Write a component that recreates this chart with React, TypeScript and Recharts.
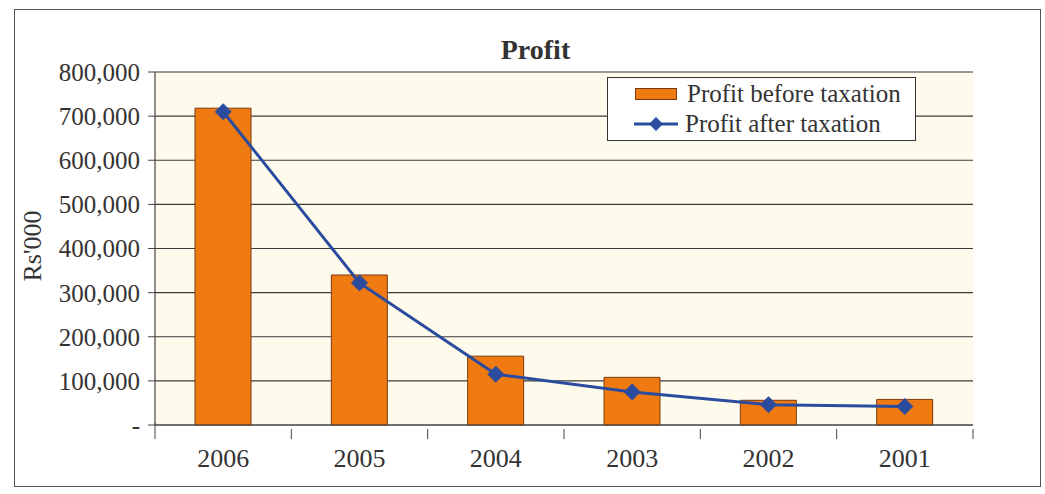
import {
  ComposedChart,
  Bar,
  Line,
  XAxis,
  YAxis,
  CartesianGrid,
  Legend,
} from "recharts";

const years = ["2006", "2005", "2004", "2003", "2002", "2001"];
const beforeTax = [718000, 340000, 156000, 108000, 56000, 58000];
const afterTax = [710000, 322000, 115000, 75000, 46000, 42000];
const yTicks = [0, 100000, 200000, 300000, 400000, 500000, 600000, 700000, 800000];

const data = years.map((year, i) => ({
  year,
  before: beforeTax[i],
  after: afterTax[i],
}));

const FONT = "'Liberation Serif', 'DejaVu Serif', serif";
const TEXT = "#333";
const ORANGE = "#EF7A12";
const BLUE = "#2B4C9E";

const Diamond = (props: any) => {
  const { cx, cy, index } = props;
  if (cx == null || cy == null) return null;
  const r = 8;
  return (
    <path
      key={`d-${index}`}
      d={`M${cx},${cy - r} L${cx + r},${cy} L${cx},${cy + r} L${cx - r},${cy} Z`}
      fill={BLUE}
      stroke={BLUE}
    />
  );
};

const YearTick = (props: any) => {
  const { x, y, payload, index } = props;
  const half = payload.offset || 0;
  return (
    <g>
      {index === 0 && (
        <line x1={x - half} y1={y - 10} x2={x - half} y2={y + 6} stroke="#444" />
      )}
      <line x1={x + half} y1={y - 4} x2={x + half} y2={y + 6} stroke="#444" />
      <text
        x={x}
        y={y + 34}
        textAnchor="middle"
        fill={TEXT}
        fontSize={26}
        fontFamily={FONT}
      >
        {payload.value}
      </text>
    </g>
  );
};

const LegendBox = () => (
  <div
    style={{
      border: "1px solid #333",
      background: "#fff",
      width: 309,
      height: 64,
      fontFamily: FONT,
      fontSize: 25,
      color: TEXT,
      boxSizing: "border-box",
      whiteSpace: "nowrap",
    }}
  >
    <div style={{ display: "flex", alignItems: "center", height: 30, marginTop: 1 }}>
      <span
        style={{
          display: "inline-block",
          width: 40,
          height: 10,
          background: ORANGE,
          border: "1px solid #7a3a10",
          marginLeft: 27,
          marginRight: 10,
        }}
      />
      Profit before taxation
    </div>
    <div style={{ display: "flex", alignItems: "center", height: 30 }}>
      <svg width={46} height={20} style={{ marginLeft: 25, marginRight: 6 }}>
        <line x1={1} y1={10} x2={45} y2={10} stroke={BLUE} strokeWidth={3} />
        <path d="M23,3 L30,10 L23,17 L16,10 Z" fill={BLUE} />
      </svg>
      Profit after taxation
    </div>
  </div>
);

export default function App() {
  return (
    <div
      style={{
        position: "absolute",
        left: 0,
        top: 0,
        width: 1045,
        height: 494,
        background: "#fff",
        fontFamily: FONT,
      }}
    >
      <div
        style={{
          position: "absolute",
          left: 14,
          top: 9,
          width: 1025,
          height: 476,
          border: "1px solid #555",
        }}
      />
      <div
        style={{
          position: "absolute",
          left: 13,
          width: 1045,
          top: 34,
          textAlign: "center",
          fontSize: 28,
          fontWeight: "bold",
          color: TEXT,
        }}
      >
        Profit
      </div>
      <div
        style={{
          position: "absolute",
          left: 33,
          top: 246,
          transform: "translate(-50%, -50%) rotate(-90deg)",
          transformOrigin: "center",
          fontSize: 26,
          color: TEXT,
          whiteSpace: "nowrap",
        }}
      >
        Rs'000
      </div>
      <ComposedChart
        width={1045}
        height={494}
        data={data}
        margin={{ top: 72, right: 72, left: 0, bottom: 0 }}
        style={{ position: "absolute", left: 0, top: 0 }}
      >
        <CartesianGrid
          vertical={false}
          stroke="#3a3a3a"
          strokeWidth={1.2}
          fill="#FFFBEC"
          fillOpacity={1}
        />
        <XAxis
          dataKey="year"
          height={69}
          tickLine={false}
          axisLine={{ stroke: "#444", strokeWidth: 1.2 }}
          tick={<YearTick />}
          interval={0}
        />
        <YAxis
          width={155}
          domain={[0, 800000]}
          ticks={yTicks}
          tickSize={7}
          tickMargin={8}
          tickLine={{ stroke: "#444" }}
          axisLine={{ stroke: "#444", strokeWidth: 1.2 }}
          tick={{ fill: TEXT, fontSize: 25, fontFamily: FONT }}
          tickFormatter={(v: number) => (v === 0 ? "-" : v.toLocaleString("en-US"))}
        />
        <YAxis
          yAxisId="frame"
          orientation="right"
          width={0}
          tick={false}
          tickLine={false}
          axisLine={{ stroke: "#666" }}
        />
        <Legend
          layout="horizontal"
          verticalAlign="middle"
          align="center"
          wrapperStyle={{ left: 607, top: 77, width: 309, height: 64 }}
          content={<LegendBox />}
        />
        <Bar
          dataKey="before"
          name="Profit before taxation"
          fill={ORANGE}
          stroke="#7a3a10"
          strokeWidth={1}
          barSize={56}
          isAnimationActive={false}
        />
        <Line
          type="linear"
          dataKey="after"
          name="Profit after taxation"
          stroke={BLUE}
          strokeWidth={3}
          dot={Diamond}
          activeDot={false}
          isAnimationActive={false}
        />
      </ComposedChart>
    </div>
  );
}
